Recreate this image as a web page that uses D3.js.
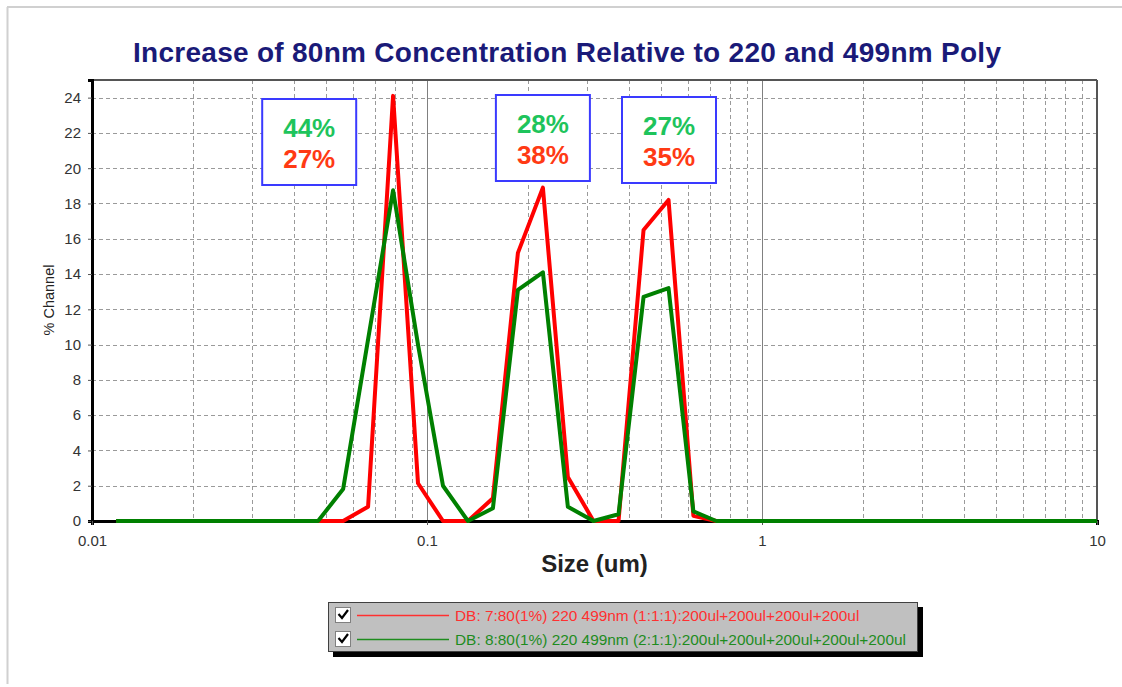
<!DOCTYPE html>
<html>
<head>
<meta charset="utf-8">
<script src="https://cdn.jsdelivr.net/npm/d3@7"></script>
<style>
  body { margin: 0; background: #fff; }
  svg { display: block; font-family: Arial, "Liberation Sans", sans-serif; }
</style>
</head>
<body>
<div id="chart"></div>
<script>
// channel sizes (um)
const sizes = [0.0118, 0.0473, 0.0562, 0.0667, 0.0792, 0.0940, 0.1116, 0.1325, 0.1573,
               0.1868, 0.2218, 0.2633, 0.3140, 0.3730, 0.4430, 0.5260, 0.6240, 0.7300, 10];

// % channel, sample 7 (red) and sample 8 (green)
const redValues   = [0, 0, 0, 0.81, 24.1, 2.14, 0, 0, 1.29, 15.2, 18.9, 2.5, 0, 0, 16.5, 18.2, 0.3, 0, 0];
const greenValues = [0, 0, 1.82, 10.3, 18.75, 10.0, 2.0, 0, 0.72, 13.1, 14.1, 0.81, 0, 0.38, 12.7, 13.2, 0.55, 0, 0];

const yTicks = [0, 2, 4, 6, 8, 10, 12, 14, 16, 18, 20, 22, 24];
const xTicks = [0.01, 0.1, 1, 10];
const xTickLabels = ["0.01", "0.1", "1", "10"];

const greenPct = ["44%", "28%", "27%"];
const redPct = ["27%", "38%", "35%"];
const boxSizes = [0.0445, 0.2218, 0.5277];

const legendLabels = [
    "DB: 7:80(1%) 220 499nm (1:1:1):200ul+200ul+200ul+200ul",
    "DB: 8:80(1%) 220 499nm (2:1:1):200ul+200ul+200ul+200ul+200ul"
];

const W = 1122, H = 687;
const plot = {left: 92, right: 1097, top: 80, bottom: 521};

const svg = d3.select("#chart").append("svg")
    .attr("width", W)
    .attr("height", H);

// outer frame (top and left edges visible)
svg.append("line").attr("x1", 7).attr("x2", W).attr("y1", 7).attr("y2", 7)
    .attr("stroke", "#d0d0d0").attr("stroke-width", 2);
svg.append("line").attr("x1", 7.5).attr("x2", 7.5).attr("y1", 7).attr("y2", 684)
    .attr("stroke", "#d0d0d0").attr("stroke-width", 2);

const x = d3.scaleLog().domain([0.01, 10]).range([plot.left, plot.right]);
const y = d3.scaleLinear().domain([0, 25]).range([plot.bottom, plot.top]);

// title
svg.append("text")
    .attr("x", 567)
    .attr("y", 62)
    .attr("text-anchor", "middle")
    .attr("textLength", 868)
    .attr("lengthAdjust", "spacing")
    .style("font-size", "28px")
    .style("font-weight", "bold")
    .style("fill", "#1a1a78")
    .text("Increase of 80nm Concentration Relative to 220 and 499nm Poly");

// grid
const grid = svg.append("g");
const minorX = [];
[0.01, 0.1, 1].forEach(dec => {
    for (let m = 2; m <= 9; m++) minorX.push(dec * m);
});
grid.selectAll(".vgrid").data(minorX).enter().append("line")
    .attr("x1", d => Math.round(x(d)) + 0.5).attr("x2", d => Math.round(x(d)) + 0.5)
    .attr("y1", plot.top).attr("y2", plot.bottom)
    .attr("stroke", "#9a9a9a").attr("stroke-dasharray", "4,3");
grid.selectAll(".hgrid").data(yTicks.filter(d => d > 0)).enter().append("line")
    .attr("x1", plot.left).attr("x2", plot.right)
    .attr("y1", d => Math.round(y(d)) + 0.5).attr("y2", d => Math.round(y(d)) + 0.5)
    .attr("stroke", "#9a9a9a").attr("stroke-dasharray", "4,3");
grid.selectAll(".major").data([0.1, 1]).enter().append("line")
    .attr("x1", d => Math.round(x(d)) + 0.5).attr("x2", d => Math.round(x(d)) + 0.5)
    .attr("y1", plot.top).attr("y2", plot.bottom)
    .attr("stroke", "#808080").attr("stroke-width", 1);

// plot frame
svg.append("line").attr("x1", plot.left).attr("x2", plot.right).attr("y1", plot.top).attr("y2", plot.top)
    .attr("stroke", "#555").attr("stroke-width", 2);
svg.append("line").attr("x1", plot.right).attr("x2", plot.right).attr("y1", plot.top).attr("y2", plot.bottom)
    .attr("stroke", "#555").attr("stroke-width", 2);

// axes
const yAxis = svg.append("g")
    .attr("transform", `translate(${plot.left},0)`)
    .call(d3.axisLeft(y).tickValues(yTicks).tickSize(4).tickPadding(7));
const xAxis = svg.append("g")
    .attr("transform", `translate(0,${plot.bottom})`)
    .call(d3.axisBottom(x).tickValues(xTicks).tickFormat((d, i) => xTickLabels[i]).tickSize(4).tickPadding(10));
[yAxis, xAxis].forEach(a => {
    a.select(".domain").attr("stroke", "#000").attr("stroke-width", 3);
    a.selectAll(".tick line").attr("stroke", "#555");
    a.selectAll(".tick text").style("font-size", "15px").style("fill", "#333").style("font-family", "Arial, 'Liberation Sans', sans-serif");
});

// axis titles
svg.append("text")
    .attr("transform", "translate(54,300) rotate(-90)")
    .attr("text-anchor", "middle")
    .style("font-size", "14.5px")
    .style("fill", "#222")
    .text("% Channel");
svg.append("text")
    .attr("x", (plot.left + plot.right) / 2)
    .attr("y", 572)
    .attr("text-anchor", "middle")
    .style("font-size", "24px")
    .style("font-weight", "bold")
    .style("fill", "#222")
    .text("Size (um)");

// series
const line = d3.line()
    .x((d, i) => x(sizes[i]))
    .y(d => y(d));
svg.append("path").datum(redValues)
    .attr("d", line)
    .attr("fill", "none").attr("stroke", "#ff0000").attr("stroke-width", 4)
    .attr("stroke-linejoin", "round");
svg.append("path").datum(greenValues)
    .attr("d", line)
    .attr("fill", "none").attr("stroke", "#008000").attr("stroke-width", 4)
    .attr("stroke-linejoin", "round");

// percentage boxes
const boxTops = [99, 95, 97];
const boxes = svg.selectAll(".pbox").data(boxSizes).enter().append("g")
    .attr("transform", (d, i) => `translate(${x(d)},${boxTops[i]})`);
boxes.append("rect")
    .attr("x", -47).attr("y", 0).attr("width", 94).attr("height", 86)
    .attr("fill", "#fff").attr("stroke", "#3a3aff").attr("stroke-width", 2);
boxes.append("text")
    .attr("y", 38).attr("text-anchor", "middle")
    .style("font-size", "26px").style("font-weight", "bold").style("fill", "#1ec45c")
    .text((d, i) => greenPct[i]);
boxes.append("text")
    .attr("y", 69).attr("text-anchor", "middle")
    .style("font-size", "26px").style("font-weight", "bold").style("fill", "#ff3a14")
    .text((d, i) => redPct[i]);

// legend
const legend = svg.append("g").attr("transform", "translate(328,602)");
legend.append("rect").attr("x", 5).attr("y", 5).attr("width", 590).attr("height", 50).attr("fill", "#000");
legend.append("rect").attr("x", 0.5).attr("y", 0.5).attr("width", 589).attr("height", 49)
    .attr("fill", "#c0c0c0").attr("stroke", "#404040");
const legendColors = ["#ff3030", "#1e8c1e"];
legendLabels.forEach((label, i) => {
    const row = legend.append("g").attr("transform", `translate(0,${13 + i * 24})`);
    row.append("rect").attr("x", 7.5).attr("y", -7.5).attr("width", 15).attr("height", 15)
        .attr("fill", "#fff").attr("stroke", "#808080");
    row.append("path").attr("d", "M10.5,-1 L14,3 L20,-5")
        .attr("fill", "none").attr("stroke", "#000").attr("stroke-width", 2.2);
    row.append("line").attr("x1", 29).attr("x2", 121).attr("y1", 0.5).attr("y2", 0.5)
        .attr("stroke", legendColors[i]).attr("stroke-width", 1.5);
    row.append("text").attr("x", 127).attr("y", 5.5)
        .style("font-size", "15.4px").style("fill", legendColors[i])
        .text(label);
});
</script>
</body>
</html>
